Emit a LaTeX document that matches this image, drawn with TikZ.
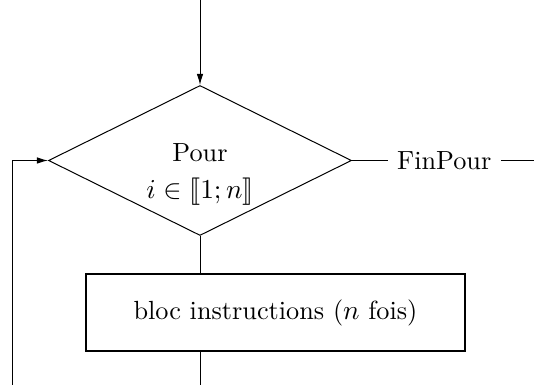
\documentclass[tikz,border=0pt]{standalone}
\usepackage{stmaryrd}
\usetikzlibrary{shapes.geometric,arrows.meta}
\begin{document}
\begin{tikzpicture}[x=0.4pt,y=-0.4pt,
  every node/.style={font=\fontsize{10.5}{13}\selectfont},
  line/.style={line width=0.4pt},
  arr/.style={line width=0.4pt,-{Latex[length=4.4pt,width=2.6pt]}},
  decision/.style={diamond,draw,line width=0.4pt,aspect=2,inner sep=0pt,minimum width=121.2pt,minimum height=60pt},
  blocbox/.style={draw,line width=0.8pt,inner sep=0pt,minimum width=151.6pt,minimum height=30.8pt}]
\useasboundingbox (0,0) rectangle (534,385);
\node[decision] (d) at (200,160.5) {};
\node (pour) at (200,153) {Pour};
\node (cond) at (200,192) {$i\in\llbracket 1;n\rrbracket$};
\node[blocbox] (bloc) at (275.5,312.5) {bloc instructions ($n$ fois)};
\node[inner sep=3.6pt] (fin) at (444.2,160.5) {FinPour};
\coordinate (top) at (200,0);
\coordinate (bot) at (200,385);
\coordinate (lstart) at (12,385);
\coordinate (rend) at (534,160.5);
\draw[arr] (top) -- (d.north);
\draw[line] (d.south) -- (d.south |- bloc.north);
\draw[line] (d.south |- bloc.south) -- (bot);
\draw[arr] (lstart) |- (d.west);
\draw[line] (d.east) -- (fin.west);
\draw[line] (fin.east) -- (rend);
\end{tikzpicture}
\end{document}
